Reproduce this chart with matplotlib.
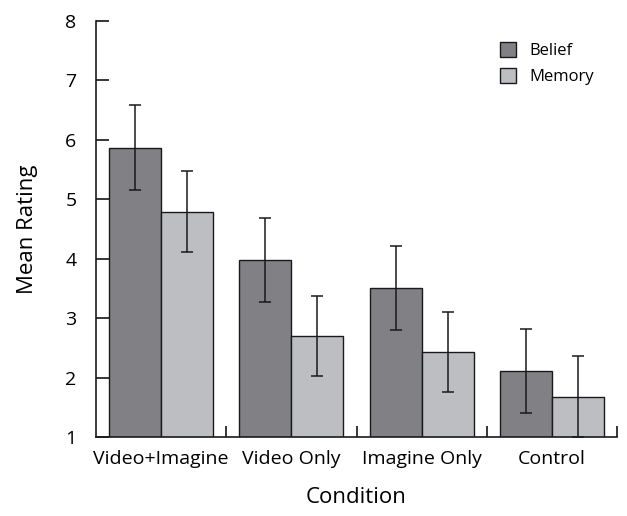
import matplotlib.pyplot as plt
import numpy as np

plt.rcParams['font.family'] = ['Open Sans', 'DejaVu Sans']

# mean ratings per condition with error bar half-widths
conditions = ['Video+Imagine', 'Video Only', 'Imagine Only', 'Control']
belief = [5.87, 3.98, 3.51, 2.11]
belief_err = [0.71, 0.71, 0.71, 0.71]
memory = [4.79, 2.70, 2.43, 1.68]
memory_err = [0.68, 0.68, 0.68, 0.68]

fig = plt.figure(figsize=(6.27, 5.16), dpi=100)
ax = fig.add_axes([0.1531, 0.1531, 0.831, 0.8062])

x = np.arange(len(conditions))
w = 0.4
err_kw = dict(ecolor='#1a1a1a', elinewidth=1.1, capsize=4.5, capthick=1.1)
ax.bar(x - w / 2, belief, w, yerr=belief_err, color='#808085',
       edgecolor='#1a1a1a', linewidth=1.0, label='Belief', error_kw=err_kw, zorder=2)
ax.bar(x + w / 2, memory, w, yerr=memory_err, color='#bdbec2',
       edgecolor='#1a1a1a', linewidth=1.0, label='Memory', error_kw=err_kw, zorder=2)

ax.set_xlim(-0.5, 3.5)
ax.set_ylim(1, 8)
ax.set_yticks(range(1, 9))
ax.set_xticks(x)
ax.set_xticklabels(conditions)
ax.set_xticks(x + 0.5, minor=True)

for s in ['top', 'right']:
    ax.spines[s].set_visible(False)
for s in ['left', 'bottom']:
    ax.spines[s].set_linewidth(1.2)
    ax.spines[s].set_color('#1a1a1a')

ax.tick_params(axis='y', direction='in', length=9, width=1.1, labelsize=14, pad=14)
ax.tick_params(axis='x', which='major', length=0, labelsize=14, pad=9)
ax.tick_params(axis='x', which='minor', direction='in', length=8, width=1.1)

ax.set_ylabel('Mean Rating', fontsize=16, labelpad=20)
ax.set_xlabel('Condition', fontsize=16, labelpad=14)

ax.legend(loc='upper right', bbox_to_anchor=(0.985, 0.985), frameon=False,
          fontsize=12, handlelength=1.0, handleheight=1.0, handletextpad=0.8,
          labelspacing=0.5)

plt.savefig('out.png', dpi=100)
